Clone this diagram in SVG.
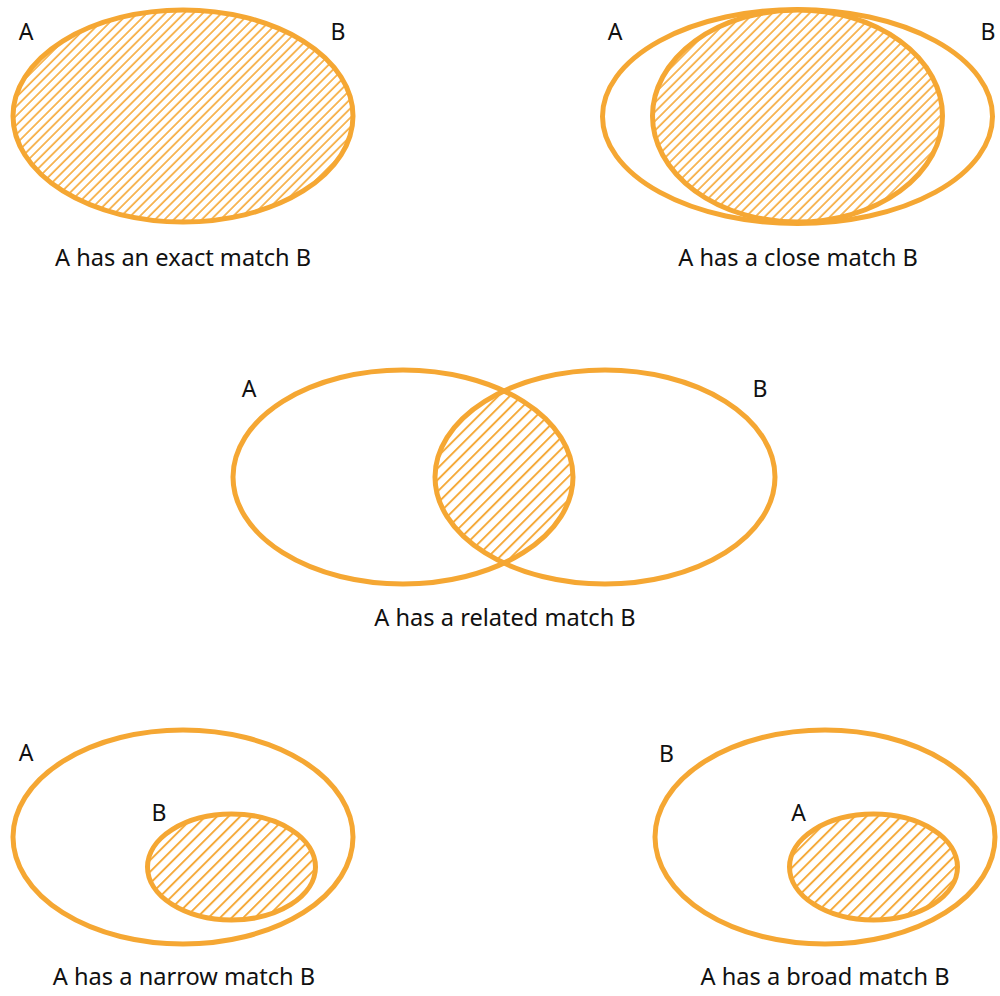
<svg xmlns="http://www.w3.org/2000/svg" width="1000" height="996" viewBox="0 0 1000 996">
<style>
.e{fill:none;stroke:#F5A733;stroke-width:5}
.t{font-family:"Noto Sans","Open Sans",sans-serif;fill:#111;text-anchor:middle}
.cap{font-size:23.6px}
.lbl{font-size:23px}
</style>
<defs>
<pattern id="h1" patternUnits="userSpaceOnUse" width="6.6" height="10" patternTransform="rotate(45)">
<line x1="1" y1="0" x2="1" y2="10" stroke="#F5A733" stroke-width="1.6"/>
</pattern>
<pattern id="h2" patternUnits="userSpaceOnUse" width="8.2" height="10" patternTransform="rotate(45)">
<line x1="1" y1="0" x2="1" y2="10" stroke="#F5A733" stroke-width="1.9"/>
</pattern>
<clipPath id="clipRelA"><ellipse cx="403" cy="477" rx="170" ry="107"/></clipPath>
</defs>
<g id="exact">
<ellipse cx="183" cy="116" rx="170" ry="106" fill="url(#h1)"/>
<ellipse class="e" cx="183" cy="116" rx="170" ry="106"/>
<text class="t lbl" x="26" y="40">A</text>
<text class="t lbl" x="338" y="40">B</text>
<text class="t cap" x="183" y="266">A has an exact match B</text>
</g>
<g id="close">
<ellipse cx="797.5" cy="116" rx="145" ry="106" fill="url(#h1)"/>
<ellipse class="e" cx="797.5" cy="116.5" rx="195" ry="107"/>
<ellipse class="e" cx="797.5" cy="116" rx="145" ry="106"/>
<text class="t lbl" x="615" y="40">A</text>
<text class="t lbl" x="988" y="40">B</text>
<text class="t cap" x="798" y="266">A has a close match B</text>
</g>
<g id="related">
<ellipse cx="605" cy="477" rx="170" ry="107" fill="url(#h2)" clip-path="url(#clipRelA)"/>
<ellipse class="e" cx="403" cy="477" rx="170" ry="107"/>
<ellipse class="e" cx="605" cy="477" rx="170" ry="107"/>
<text class="t lbl" x="249" y="397">A</text>
<text class="t lbl" x="760" y="397">B</text>
<text class="t cap" x="505" y="626">A has a related match B</text>
</g>
<g id="narrow">
<ellipse class="e" cx="183" cy="837" rx="170" ry="107"/>
<ellipse cx="231.5" cy="867" rx="84" ry="53" fill="url(#h2)"/>
<ellipse class="e" cx="231.5" cy="867" rx="84" ry="53"/>
<text class="t lbl" x="26" y="761">A</text>
<text class="t lbl" x="159" y="821">B</text>
<text class="t cap" x="184" y="985">A has a narrow match B</text>
</g>
<g id="broad">
<ellipse class="e" cx="825" cy="837" rx="170" ry="107"/>
<ellipse cx="873.5" cy="867" rx="84" ry="53" fill="url(#h2)"/>
<ellipse class="e" cx="873.5" cy="867" rx="84" ry="53"/>
<text class="t lbl" x="666.5" y="762">B</text>
<text class="t lbl" x="798.5" y="821">A</text>
<text class="t cap" x="825" y="985">A has a broad match B</text>
</g>
<g id="connectors"/>
</svg>
